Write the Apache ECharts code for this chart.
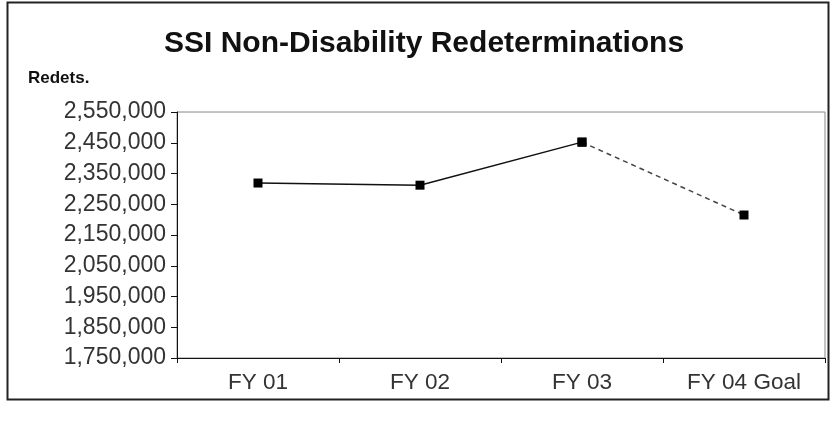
<!DOCTYPE html>
<html>
<head>
<meta charset="utf-8">
<script src="https://cdn.jsdelivr.net/npm/echarts@6/dist/echarts.min.js"></script>
<style>
  html, body { margin: 0; padding: 0; background: #fff; }
  #chart { width: 831px; height: 430px; }
</style>
</head>
<body>
<div id="chart"></div>
<script>
const categories = ['FY 01', 'FY 02', 'FY 03', 'FY 04 Goal']
const actual = [2319000, 2312000, 2452000, null]
const goal = [null, null, 2452000, 2215000]

const chart = echarts.init(document.getElementById('chart'))

const font = 'Liberation Sans, Arial, sans-serif'

chart.setOption({
  backgroundColor: '#fff',
  animation: false,
  title: {
    text: 'SSI Non-Disability Redeterminations',
    left: 159,
    top: 24,
    textStyle: { fontFamily: font, fontSize: 30, fontWeight: 'bold', color: '#111' }
  },
  graphic: [
    {
      type: 'rect',
      shape: { x: 7.5, y: 2.5, width: 821, height: 397 },
      style: { fill: 'none', stroke: '#222', lineWidth: 2 }
    },
    {
      // y axis caption, sits above the tick labels like in the original
      type: 'text',
      left: 28,
      top: 70,
      style: { text: 'Redets.', font: 'bold 17px ' + font, fill: '#111' }
    }
  ],
  grid: {
    left: 177,
    right: 6,
    top: 112,
    bottom: 72,
    show: true,
    borderColor: '#888',
    borderWidth: 1
  },
  xAxis: {
    type: 'category',
    data: categories,
    boundaryGap: true,
    axisLine: { lineStyle: { color: '#111', width: 1 } },
    axisTick: { show: true, length: 5, lineStyle: { color: '#111' } },
    axisLabel: { fontFamily: font, fontSize: 22.5, color: '#333', margin: 13 }
  },
  yAxis: {
    type: 'value',
    min: 1750000,
    max: 2550000,
    interval: 100000,
    axisLine: { show: true, lineStyle: { color: '#111', width: 1 } },
    axisTick: { show: true, length: 6, lineStyle: { color: '#111' } },
    splitLine: { show: false },
    axisLabel: {
      fontFamily: font,
      fontSize: 23,
      color: '#333',
      margin: 11,
      formatter: v => v.toLocaleString('en-US')
    }
  },
  series: [
    {
      name: 'Actual',
      type: 'line',
      data: actual,
      symbol: 'rect',
      symbolSize: 9,
      itemStyle: { color: '#000' },
      lineStyle: { color: '#111', width: 1.5 }
    },
    {
      name: 'Goal',
      type: 'line',
      data: goal,
      symbol: 'rect',
      symbolSize: 9,
      itemStyle: { color: '#000' },
      lineStyle: { color: '#444', width: 1.5, type: [5, 4] }
    }
  ]
})
</script>
</body>
</html>
